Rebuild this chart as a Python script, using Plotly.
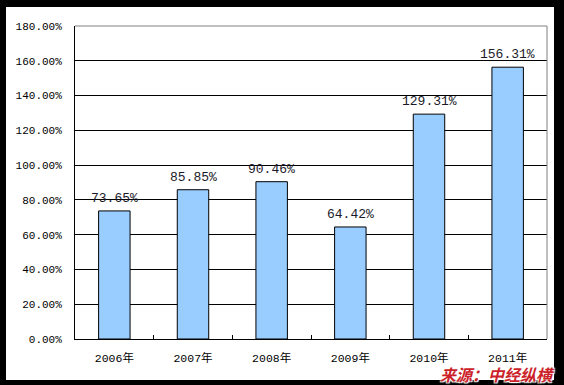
import plotly.graph_objects as go

categories = ["2006年", "2007年", "2008年", "2009年", "2010年", "2011年"]
values = [73.65, 85.85, 90.46, 64.42, 129.31, 156.31]
y_ticks = [0, 20, 40, 60, 80, 100, 120, 140, 160, 180]
y_ticktext = [f"{v:.2f}%" for v in y_ticks]
source_text = "来源：中经纵横"

W, H = 564, 385
L, R, T, B = 75, 17, 26, 46
PW, PH = W - L - R, H - T - B

def px_x(x):
    return (x - L) / PW

def px_y(y):
    return (H - B - y) / PH

mono = "Liberation Mono, DejaVu Sans Mono, Noto Sans CJK SC, monospace"

fig = go.Figure()
fig.add_trace(go.Bar(
    x=categories, y=values,
    marker=dict(color="#99CCFF", line=dict(color="#000000", width=1)),
    hoverinfo="skip",
))

for c, v in zip(categories, values):
    fig.add_annotation(
        x=c, y=v, text=f"{v:.2f}%", showarrow=False,
        yanchor="bottom", yshift=3,
        font=dict(family=mono, size=13, color="#1a1a2a"),
    )

shapes = [
    dict(type="rect", xref="paper", yref="paper",
         x0=px_x(6), x1=px_x(554), y0=px_y(380), y1=px_y(7),
         fillcolor="#ffffff", line=dict(width=0), layer="below"),
    dict(type="line", xref="paper", yref="paper", x0=0, x1=1, y0=1, y1=1,
         line=dict(color="#808080", width=1)),
    dict(type="line", xref="paper", yref="paper", x0=1, x1=1, y0=0, y1=1,
         line=dict(color="#808080", width=1)),
]

fig.add_annotation(
    xref="paper", yref="paper", x=px_x(497.5), y=px_y(373.5),
    text=source_text, showarrow=False, xanchor="center", yanchor="middle",
    borderpad=0,
    font=dict(family="Noto Sans CJK SC", size=16, color="#CC1F2A",
              weight="bold", style="italic",
              shadow="1px 1px 1px #ffffff, -1px -1px 1px #ffffff, 1px -1px 1px #ffffff, -1px 1px 1px #ffffff"),
)

fig.update_layout(
    width=W, height=H,
    margin=dict(l=L, r=R, t=T, b=B, pad=0),
    paper_bgcolor="#000000", plot_bgcolor="#ffffff",
    bargap=0.6, showlegend=False, shapes=shapes,
    xaxis=dict(
        showline=True, linecolor="#000000", linewidth=1,
        ticks="inside", tickson="boundaries", ticklen=4, tickcolor="#000000",
        showgrid=False, ticklabelstandoff=8,
        tickfont=dict(family=mono, size=11.5, color="#000000"),
    ),
    yaxis=dict(
        range=[0, 180], tickvals=y_ticks, ticktext=y_ticktext,
        showline=True, linecolor="#000000", linewidth=1,
        showgrid=True, gridcolor="#000000", gridwidth=1,
        zeroline=False, ticks="", ticklabelstandoff=10,
        tickfont=dict(family=mono, size=11, color="#000000"),
    ),
)

fig.write_html("out.html", config={"displayModeBar": False},
               post_script="document.body.style.margin='0';document.body.style.overflow='hidden';")
